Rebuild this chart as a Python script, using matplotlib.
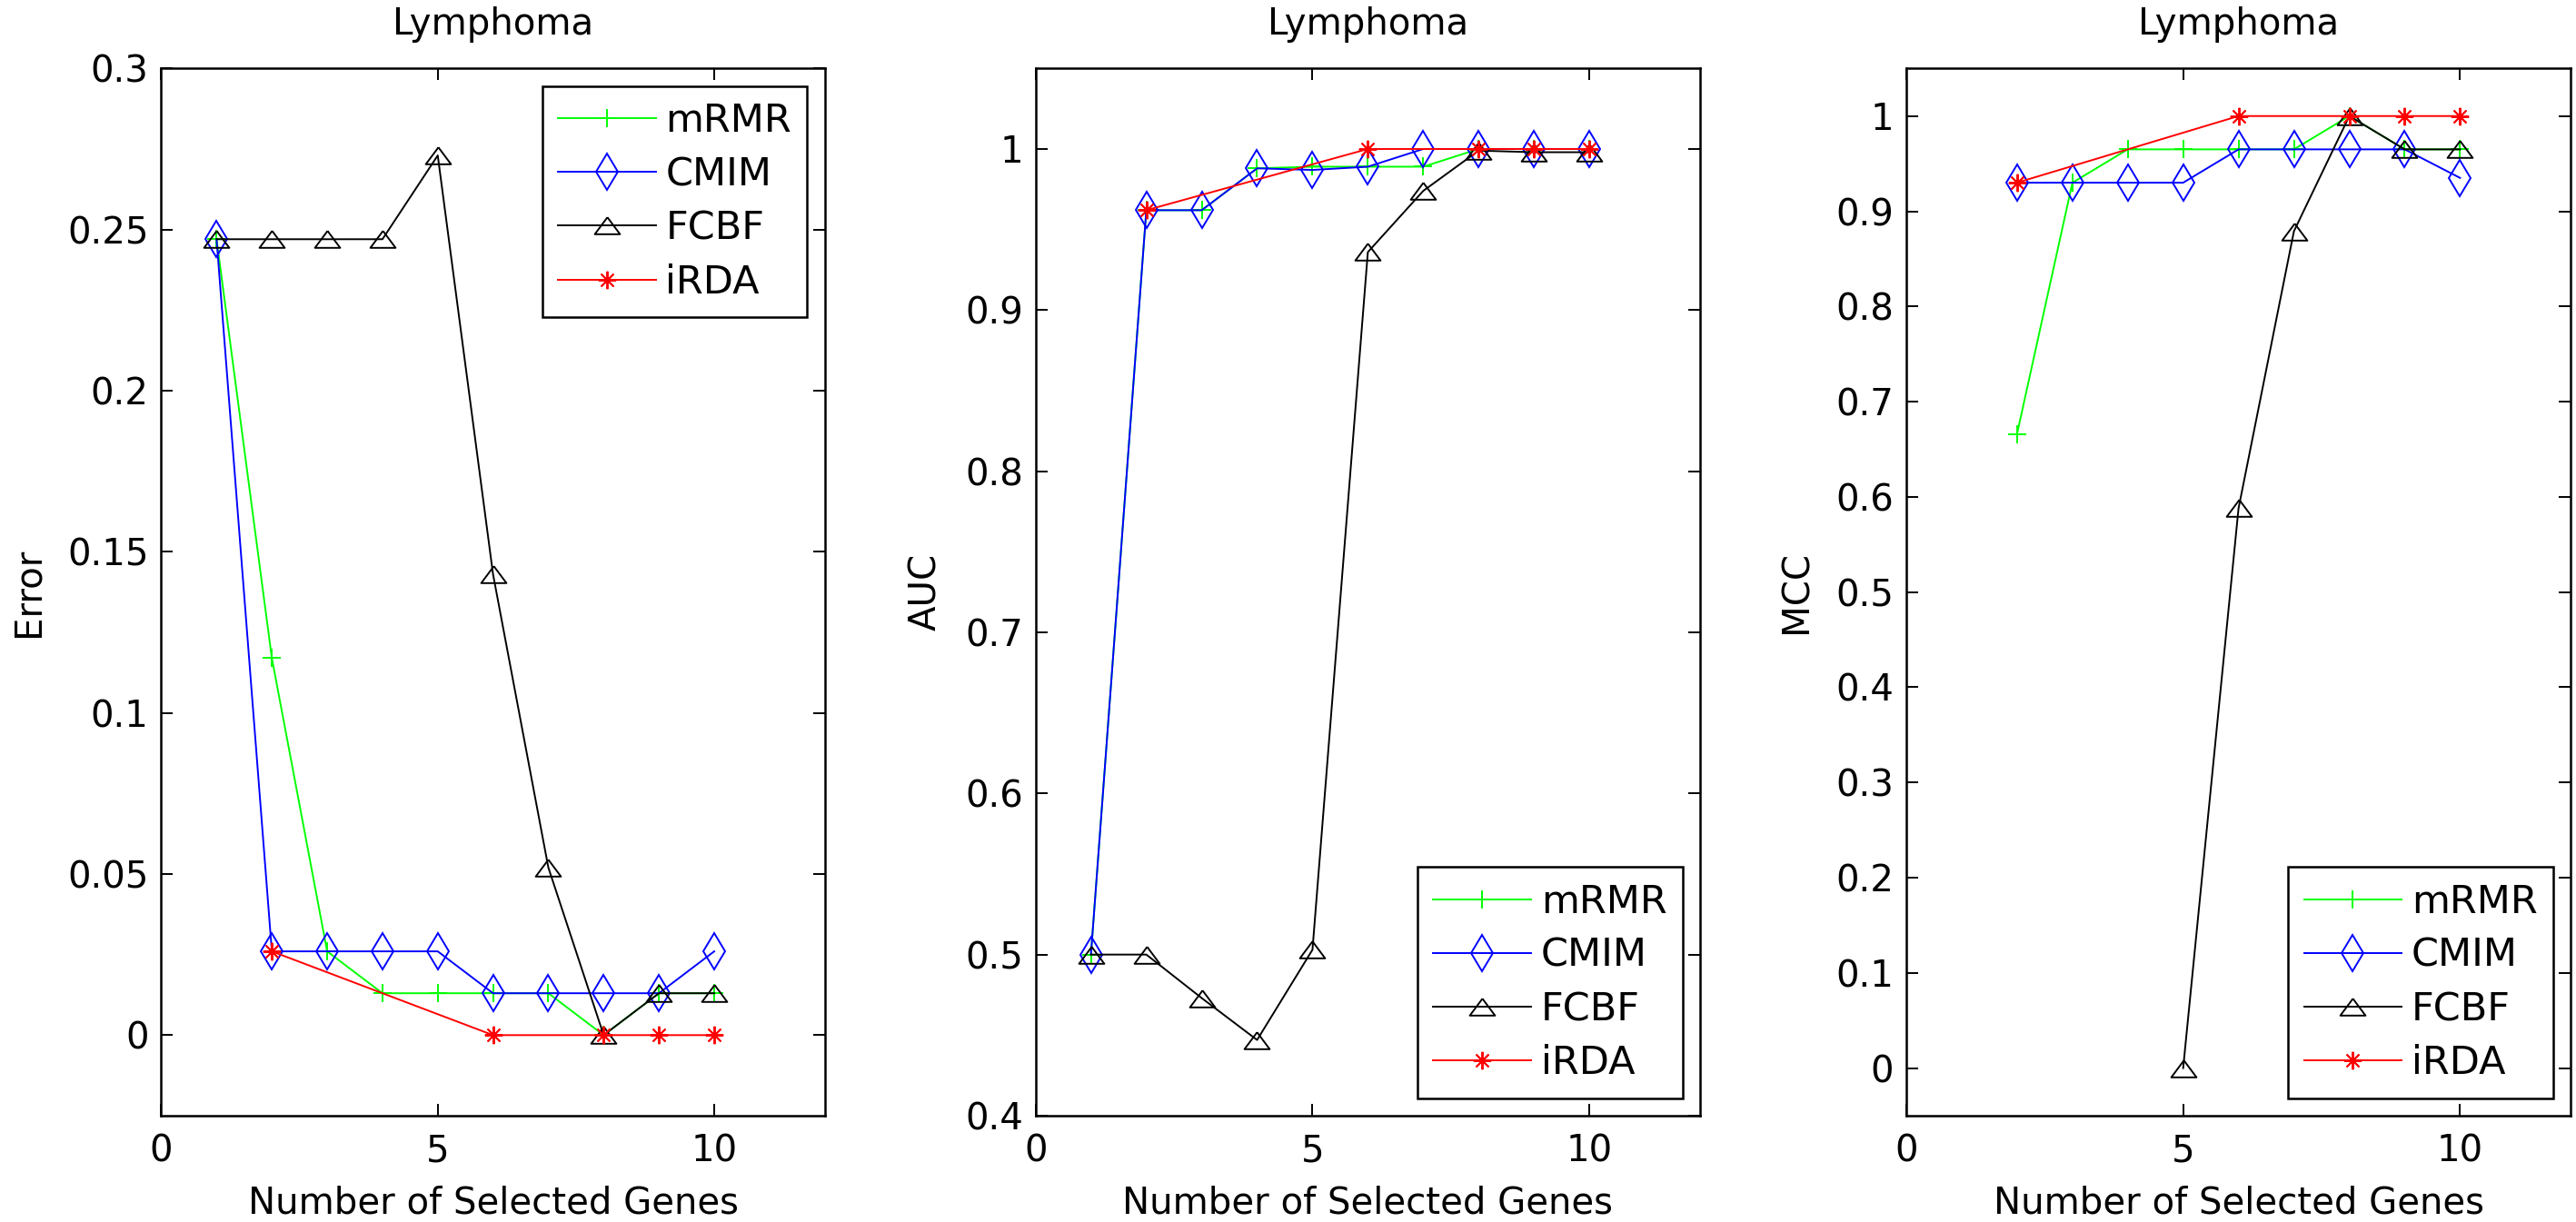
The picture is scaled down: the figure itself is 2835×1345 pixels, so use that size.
import numpy as np
import matplotlib
matplotlib.use('Agg')
import matplotlib.pyplot as plt
from matplotlib.ticker import FuncFormatter

# Error
err_x = [1, 2, 3, 4, 5, 6, 7, 8, 9, 10]
err_mrmr = [0.247, 0.117, 0.026, 0.013, 0.013, 0.013, 0.013, 0.0, 0.013, 0.013]
err_cmim = [0.247, 0.026, 0.026, 0.026, 0.026, 0.013, 0.013, 0.013, 0.013, 0.026]
err_fcbf = [0.247, 0.247, 0.247, 0.247, 0.273, 0.143, 0.052, 0.0, 0.013, 0.013]
err_irda_x = [2, 6, 8, 9, 10]
err_irda = [0.026, 0.0, 0.0, 0.0, 0.0]

# AUC
auc_x = [1, 2, 3, 4, 5, 6, 7, 8, 9, 10]
auc_mrmr = [0.5, 0.962, 0.962, 0.988, 0.989, 0.989, 0.989, 1.0, 1.0, 1.0]
auc_cmim = [0.5, 0.962, 0.962, 0.988, 0.987, 0.989, 1.0, 1.0, 1.0, 1.0]
auc_fcbf = [0.5, 0.5, 0.473, 0.447, 0.503, 0.936, 0.974, 0.999, 0.998, 0.998]
auc_irda_x = [2, 6, 8, 9, 10]
auc_irda = [0.962, 1.0, 1.0, 1.0, 1.0]

# MCC
mcc_x = [2, 3, 4, 5, 6, 7, 8, 9, 10]
mcc_mrmr = [0.666, 0.93, 0.965, 0.965, 0.965, 0.965, 1.0, 0.965, 0.965]
mcc_cmim = [0.93, 0.93, 0.93, 0.93, 0.965, 0.965, 0.965, 0.965, 0.935]
mcc_fcbf_x = [5, 6, 7, 8, 9, 10]
mcc_fcbf = [0.0, 0.588, 0.879, 1.0, 0.965, 0.965]
mcc_irda_x = [2, 6, 8, 9, 10]
mcc_irda = [0.93, 1.0, 1.0, 1.0, 1.0]

labels = ['mRMR', 'CMIM', 'FCBF', 'iRDA']

plt.rcParams['font.family'] = 'DejaVu Sans'
plt.rcParams['font.size'] = 29

tri = [(0, 0.67), (-1, -0.67), (1, -0.67), (0, 0.67)]
lw = 1.4


def panel(ax, xs, series, ylabel, ylim, yticks, legend_loc):
    styles = [
        dict(color=(0, 1, 0), marker='+', markersize=15),
        dict(color=(0, 0, 1), marker='d', markersize=20, markerfacecolor='none'),
        dict(color='black', marker=tri, markersize=20, markerfacecolor='none'),
        dict(color=(1, 0, 0), marker=(8, 2, 0), markersize=14),
    ]
    for x, y, lab, st in zip(xs, series, labels, styles):
        ax.plot(x, y, label=lab, linewidth=lw, markeredgewidth=lw, **st)
    ax.set_xlim(0, 12)
    ax.set_ylim(*ylim)
    ax.set_xticks([0, 5, 10])
    ax.set_yticks(yticks)
    ax.yaxis.set_major_formatter(FuncFormatter(lambda v, p: f'{round(v, 3):g}'))
    ax.tick_params(direction='in', top=True, right=True, length=9.5, width=1.4,
                   labelsize=29)
    ax.tick_params(axis='x', pad=14)
    ax.tick_params(axis='y', pad=10)
    for s in ax.spines.values():
        s.set_linewidth(1.8)
    ax.set_title('Lymphoma', fontsize=29, pad=27)
    ax.set_xlabel('Number of Selected Genes', fontsize=29, labelpad=12)
    ax.set_ylabel(ylabel, fontsize=29, labelpad=16)
    leg = ax.legend(loc=legend_loc, numpoints=1, handlelength=2.5,
                    handletextpad=0.25, borderpad=0.4, labelspacing=0.4,
                    borderaxespad=0.45, fancybox=False, framealpha=1,
                    fontsize=31)
    leg.get_frame().set_edgecolor('black')
    leg.get_frame().set_linewidth(1.8)


fig = plt.figure(figsize=(28.35, 13.45), dpi=100)
ax1 = fig.add_axes([0.0626, 0.087, 0.2576, 0.857])
ax2 = fig.add_axes([0.402, 0.087, 0.258, 0.857])
ax3 = fig.add_axes([0.740, 0.087, 0.258, 0.857])

panel(ax1, [err_x, err_x, err_x, err_irda_x],
      [err_mrmr, err_cmim, err_fcbf, err_irda], 'Error',
      (-0.025, 0.3), np.arange(0, 0.31, 0.05), 'upper right')
panel(ax2, [auc_x, auc_x, auc_x, auc_irda_x],
      [auc_mrmr, auc_cmim, auc_fcbf, auc_irda], 'AUC',
      (0.4, 1.05), np.arange(0.4, 1.01, 0.1), 'lower right')
panel(ax3, [mcc_x, mcc_x, mcc_fcbf_x, mcc_irda_x],
      [mcc_mrmr, mcc_cmim, mcc_fcbf, mcc_irda], 'MCC',
      (-0.05, 1.05), np.arange(0, 1.01, 0.1), 'lower right')

fig.savefig('out.png', dpi=100, facecolor='white')
